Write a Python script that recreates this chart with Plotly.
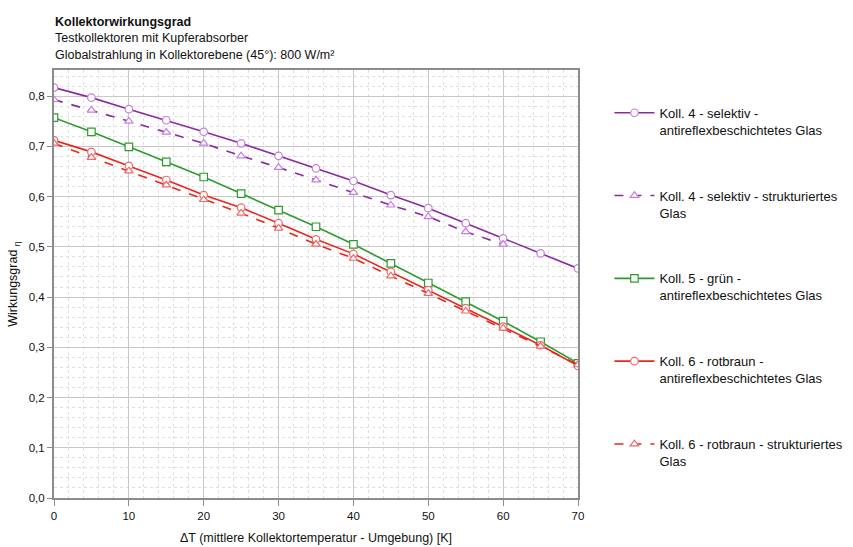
import plotly.graph_objects as go

dT = [0, 5, 10, 15, 20, 25, 30, 35, 40, 45, 50, 55, 60, 65, 70]
dT_k4s = [0, 5, 10, 15, 20, 25, 30, 35, 40, 45, 50, 55, 60]

k4_ar = [0.817, 0.797, 0.774, 0.752, 0.729, 0.706, 0.681, 0.656, 0.631, 0.603, 0.577, 0.547, 0.517, 0.487, 0.457]
k4_st = [0.793, 0.772, 0.750, 0.728, 0.706, 0.681, 0.658, 0.633, 0.608, 0.583, 0.560, 0.530, 0.505]
k5_ar = [0.757, 0.729, 0.699, 0.669, 0.639, 0.606, 0.573, 0.540, 0.505, 0.467, 0.428, 0.391, 0.352, 0.311, 0.268]
k6_ar = [0.712, 0.689, 0.661, 0.633, 0.603, 0.578, 0.547, 0.515, 0.486, 0.450, 0.414, 0.378, 0.341, 0.304, 0.263]
k6_st = [0.706, 0.678, 0.651, 0.623, 0.594, 0.567, 0.537, 0.505, 0.477, 0.442, 0.407, 0.372, 0.338, 0.302, 0.265]

names = [
    "Koll. 4 - selektiv -<br>antireflexbeschichtetes Glas",
    "Koll. 4 - selektiv - strukturiertes<br>Glas",
    "Koll. 5 - grün -<br>antireflexbeschichtetes Glas",
    "Koll. 6 - rotbraun -<br>antireflexbeschichtetes Glas",
    "Koll. 6 - rotbraun - strukturiertes<br>Glas",
]

FONT = "Liberation Sans, Arial, sans-serif"
fig = go.Figure()

series = [
    (dT, k4_ar, names[0], "#8A2BA0", "#C47FE0", "circle", "solid"),
    (dT_k4s, k4_st, names[1], "#8A2BA0", "#C47FE0", "triangle-up", "dash"),
    (dT, k5_ar, names[2], "#2E9A2E", "#2E9A2E", "square", "solid"),
    (dT, k6_ar, names[3], "#E8261E", "#F06A6A", "circle", "solid"),
    (dT, k6_st, names[4], "#E8261E", "#F06A6A", "triangle-up", "dash"),
]
for i, (x, y, n, lc, mc, sym, dash) in enumerate(series):
    fig.add_trace(go.Scatter(
        x=x, y=y, name=n, mode="lines+markers", legendgroup=str(i),
        line=dict(color=lc, width=1.6, dash=dash),
        marker=dict(symbol=sym, size=7.5, color="white", line=dict(color=mc, width=1.2)),
    ))

grid_major = "#C8C8C8"
grid_minor = "#E0E0E0"
fig.update_layout(
    width=853, height=547,
    margin=dict(l=54, r=275, t=70, b=49, autoexpand=False),
    paper_bgcolor="white", plot_bgcolor="white",
    separators=",.",
    font=dict(family=FONT, size=11, color="#111"),
    showlegend=True,
    legend=dict(x=1.06, y=0.935, xanchor="left", yanchor="top", valign="top",
                tracegroupgap=46, font=dict(size=13, family=FONT, color="#111"),
                itemwidth=40, bgcolor="rgba(0,0,0,0)"),
    xaxis=dict(range=[0, 70], dtick=10, tick0=0, showgrid=True, gridcolor=grid_major, gridwidth=1,
               minor=dict(dtick=2, showgrid=True, gridcolor=grid_minor, griddash="dot", gridwidth=1),
               showline=True, linecolor="#8C8C8C", linewidth=2, mirror=True, automargin=False,
               ticks="outside", ticklen=6, tickcolor="#8C8C8C", zeroline=False,
               tickfont=dict(size=11.5, family=FONT, color="#111"),
               title=dict(text="ΔT (mittlere Kollektortemperatur - Umgebung) [K]", standoff=12,
                          font=dict(size=12.5, family=FONT, color="#111"))),
    yaxis=dict(range=[0, 0.852], dtick=0.1, tick0=0, tickformat=".1f", showgrid=True, gridcolor=grid_major,
               minor=dict(dtick=0.02, showgrid=True, gridcolor=grid_minor, griddash="dot", gridwidth=1),
               showline=True, linecolor="#8C8C8C", linewidth=2, mirror=True, automargin=False,
               ticks="outside", ticklen=5, tickcolor="#8C8C8C", zeroline=False,
               tickfont=dict(size=11.5, family=FONT, color="#111"),
               title=dict(text="Wirkungsgrad <sub>η</sub>", standoff=8,
                          font=dict(size=12.5, family=FONT, color="#111"))),
)

fig.add_annotation(xref="paper", yref="paper", x=0, y=1, xanchor="left", yanchor="bottom",
                   xshift=-1, yshift=6, align="left", showarrow=False,
                   text="<b>Kollektorwirkungsgrad</b><br>Testkollektoren mit Kupferabsorber<br>"
                        "Globalstrahlung in Kollektorebene (45°): 800 W/m²",
                   font=dict(size=12.5, family=FONT, color="#111"))

fig.write_html("out.html")
